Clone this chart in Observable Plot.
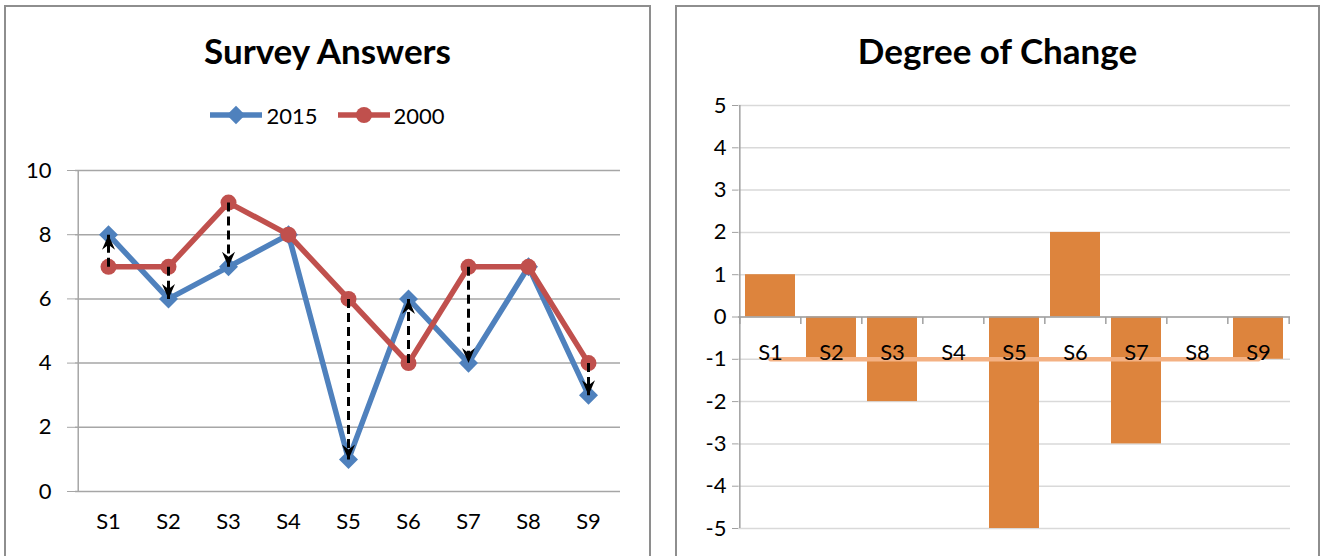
<!DOCTYPE html>
<html>
<head>
<meta charset="utf-8">
<script src="https://cdn.jsdelivr.net/npm/d3@7"></script>
<script src="https://cdn.jsdelivr.net/npm/@observablehq/plot@0.6"></script>
<style>
  html, body { margin: 0; padding: 0; background: #fff; width: 1322px; height: 556px; overflow: hidden; font-family: Lato, "DejaVu Sans", sans-serif; }
  .panel { position: absolute; border: 2px solid #8e8e8e; box-sizing: border-box; background: #fff; }
  .title { position: absolute; font-weight: 700; font-size: 35px; line-height: 40px; color: #000; text-align: center; }
  .legend { position: absolute; display: flex; align-items: center; justify-content: center; font-size: 22px; color: #000; }
  .legend .item { display: flex; align-items: center; margin: 0 10px; }
  .legend svg { margin-right: 4px; }
  .chart { position: absolute; }
</style>
</head>
<body>
<div class="panel" style="left:4px; top:5px; width:647px; height:620px;"></div>
<div class="panel" style="left:675px; top:5px; width:645px; height:620px;"></div>
<div class="title" style="left:4px; width:647px; top:30px;">Survey Answers</div>
<div class="title" style="left:675px; width:645px; top:30px;">Degree of Change</div>
<div class="legend" id="legend" style="left:4px; width:647px; top:100px; height:30px;"></div>
<div class="chart" id="left" style="left:0px; top:150px;"></div>
<div class="chart" id="right" style="left:660px; top:90px;"></div>
<script>
// ---- data ----
const categories = ["S1", "S2", "S3", "S4", "S5", "S6", "S7", "S8", "S9"];
const values2015 = [8, 6, 7, 8, 1, 6, 4, 7, 3];
const values2000 = [7, 7, 9, 8, 6, 4, 7, 7, 4];
const seriesNames = ["2015", "2000"];
const changeValues = [1, -1, -2, 0, -5, 2, -3, 0, -1];
const referenceValues = [-1, -1, -1, -1, -1, -1, -1, -1, -1];
const leftYTicks = [0, 2, 4, 6, 8, 10];
const rightYTicks = [-5, -4, -3, -2, -1, 0, 1, 2, 3, 4, 5];

// ---- styles ----
const blue = "#4f81bd", red = "#c0504d", orange = "#dd843d", salmon = "#f4b183";
const font = "Lato, 'DejaVu Sans', sans-serif";
const fs = 22;

// ---- legend ----
const legendColors = [blue, red];
const legend = document.getElementById("legend");
seriesNames.forEach((name, i) => {
  const item = document.createElement("div");
  item.className = "item";
  const marker = i === 0
    ? `<rect x="19.5" y="5.5" width="13" height="13" fill="${blue}" transform="rotate(45 26 12)"/>`
    : `<circle cx="26" cy="12" r="8" fill="${red}"/>`;
  item.innerHTML = `<svg width="52" height="24"><line x1="0" x2="52" y1="12" y2="12" stroke="${legendColors[i]}" stroke-width="5.5"/>${marker}</svg><span>${name}</span>`;
  legend.appendChild(item);
});

// ---- left chart ----
const rows = categories.map((c, i) => ({c, v15: values2015[i], v00: values2000[i]}));
const arrows = rows.filter(d => d.v15 !== d.v00);
const lw = 650, lh = 406, lml = 75, lmr = 30, lmt = 20, lmb = 65;
const lstep = (lw - lml - lmr) / categories.length;
const arrowHead = {draw(ctx) { ctx.moveTo(0, 0); ctx.lineTo(-6.5, 15); ctx.lineTo(0, 10); ctx.lineTo(6.5, 15); ctx.closePath(); }};

const left = Plot.plot({
  width: lw, height: lh, marginLeft: lml, marginRight: lmr, marginTop: lmt, marginBottom: lmb,
  style: {fontFamily: font, fontSize: fs + "px", background: "transparent", overflow: "visible"},
  x: {domain: categories, type: "band", padding: 0, label: null},
  y: {domain: [0, 10], label: null},
  marks: [
    Plot.ruleY(leftYTicks, {stroke: "#a6a6a6", strokeWidth: 1.5}),
    Plot.ruleX([categories[0]], {dx: -lstep / 2, stroke: "#a6a6a6", strokeWidth: 1.5}),
    Plot.axisY({ticks: leftYTicks, tickSize: 8, tickPadding: 16, stroke: "#a6a6a6", fill: "#000", fontSize: fs, tickFormat: d => String(d), label: null}),
    Plot.axisX({tickSize: 0, tickPadding: 22, fill: "#000", fontSize: fs, label: null}),
    Plot.line(rows, {x: "c", y: "v15", stroke: blue, strokeWidth: 5.5}),
    Plot.dot(rows, {x: "c", y: "v15", symbol: "square", r: 7.6, rotate: 45, fill: blue}),
    Plot.line(rows, {x: "c", y: "v00", stroke: red, strokeWidth: 5.5}),
    Plot.dot(rows, {x: "c", y: "v00", r: 8, fill: red}),
    Plot.link(arrows, {x1: "c", x2: "c", y1: "v00", y2: "v15", stroke: "#000", strokeWidth: 3, strokeDasharray: "9,5"}),
    Plot.dot(arrows, {x: "c", y: "v15", symbol: arrowHead, fill: "#000", stroke: null, rotate: d => d.v15 > d.v00 ? 0 : 180})
  ]
});
document.getElementById("left").appendChild(left);

// ---- right chart ----
const rows2 = categories.map((c, i) => ({c, v: changeValues[i], ref: referenceValues[i]}));
const rw = 662, rh = 466, rml = 78, rmr = 32, rmt = 15, rmb = 28;
const rstep = (rw - rml - rmr) / categories.length;
const vtick = {draw(ctx) { ctx.moveTo(0, 0); ctx.lineTo(0, 7); }};
const boundaries = categories.map((c, i) => ({c, side: -1})).concat([{c: categories[categories.length - 1], side: 1}]);

const right = Plot.plot({
  width: rw, height: rh, marginLeft: rml, marginRight: rmr, marginTop: rmt, marginBottom: rmb,
  style: {fontFamily: font, fontSize: fs + "px", background: "transparent", overflow: "visible"},
  x: {domain: categories, type: "band", paddingInner: 0.18, paddingOuter: 0.09, axis: null},
  y: {domain: [-5, 5], label: null},
  marks: [
    Plot.ruleY(rightYTicks, {stroke: "#d9d9d9", strokeWidth: 1.5}),
    Plot.barY(rows2, {x: "c", y: "v", fill: orange}),
    Plot.ruleY([0], {stroke: "#a0a0a0", strokeWidth: 1.5}),
    Plot.ruleX([categories[0]], {dx: -rstep / 2, stroke: "#a0a0a0", strokeWidth: 1.5}),
    Plot.dot(boundaries.filter(d => d.side < 0), {x: "c", y: () => 0, symbol: vtick, fill: "none", stroke: "#a0a0a0", strokeWidth: 1.5, dx: -rstep / 2}),
    Plot.dot(boundaries.filter(d => d.side > 0), {x: "c", y: () => 0, symbol: vtick, fill: "none", stroke: "#a0a0a0", strokeWidth: 1.5, dx: rstep / 2}),
    Plot.axisY({ticks: rightYTicks, tickSize: 6, tickPadding: 6, stroke: "#a0a0a0", fill: "#000", fontSize: fs, tickFormat: d => String(d), label: null}),
    Plot.line(rows2, {x: "c", y: "ref", stroke: salmon, strokeWidth: 4.5, strokeLinecap: "round"}),
    Plot.text(rows2, {x: "c", y: () => 0, dy: 35.5, text: "c", fill: "#000", fontSize: fs})
  ]
});
document.getElementById("right").appendChild(right);
</script>
</body>
</html>
